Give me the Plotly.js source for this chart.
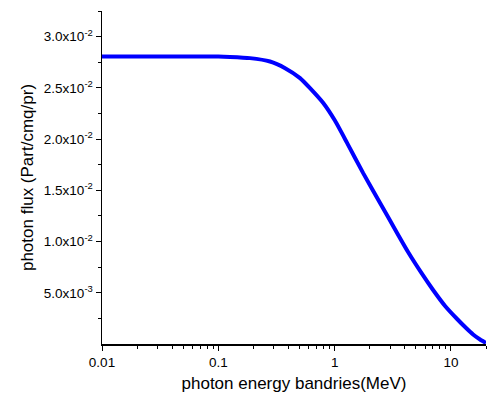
<!DOCTYPE html>
<html>
<head>
<meta charset="utf-8">
<script src="https://cdn.plot.ly/plotly-3.0.1.min.js"></script>
<style>html,body{margin:0;padding:0;background:#fff;}#chart{width:487px;height:398px;}</style>
</head>
<body>
<div id="chart"></div>
<script>
const energy = [0.01, 0.02, 0.05, 0.1, 0.126, 0.187, 0.278, 0.375, 0.504, 0.614, 0.795, 1.008, 1.278, 1.754, 2.457, 3.44, 4.277, 5.643, 7.017, 8.9, 11.29, 13.49, 15.49, 17.79, 20.0];
const flux = [0.02806, 0.02806, 0.02806, 0.02806, 0.02802, 0.02790, 0.02757, 0.02692, 0.02595, 0.02497, 0.02354, 0.02178, 0.01963, 0.01670, 0.01377, 0.01084, 0.00898, 0.00684, 0.00527, 0.00371, 0.00244, 0.00156, 0.00093, 0.00044, 0.0001];
const xTickVals = [0.01, 0.1, 1, 10];
const xTickText = ["0.01", "0.1", "1", "10"];
const yTickVals = [0.005, 0.010, 0.015, 0.020, 0.025, 0.030];
const yTickText = ["5.0x10<sup>-3</sup>", "1.0x10<sup>-2</sup>", "1.5x10<sup>-2</sup>", "2.0x10<sup>-2</sup>", "2.5x10<sup>-2</sup>", "3.0x10<sup>-2</sup>"];
const xMinor = [0.02,0.03,0.04,0.05,0.06,0.07,0.08,0.09,0.2,0.3,0.4,0.5,0.6,0.7,0.8,0.9,2,3,4,5,6,7,8,9,20];
const yMinor = [0.0025,0.0075,0.0125,0.0175,0.0225,0.0275,0.0325];

const font = "Liberation Sans, Arial, sans-serif";
Plotly.newPlot('chart', [{
  x: energy, y: flux, type: 'scatter', mode: 'lines',
  line: {color: '#0000FF', width: 4, shape: 'spline', smoothing: 0.5}
}], {
  width: 487, height: 398,
  margin: {l: 102, r: 1, t: 11, b: 54},
  paper_bgcolor: '#fff', plot_bgcolor: '#fff',
  showlegend: false,
  font: {family: font, size: 13.5, color: '#000'},
  xaxis: {
    type: 'log', range: [-2, Math.log10(20)],
    tickmode: 'array', tickvals: xTickVals, ticktext: xTickText,
    ticks: 'outside', ticklen: 5, tickwidth: 1, tickcolor: '#000',
    minor: {tickmode: 'array', tickvals: xMinor, ticks: 'outside', ticklen: 3, tickcolor: '#000', showgrid: false},
    showline: true, linecolor: '#000', linewidth: 1.5, mirror: false,
    showgrid: false, zeroline: false,
    tickfont: {family: font, size: 13.5},
    title: {text: 'photon energy bandries(MeV)', font: {family: font, size: 17}, standoff: 8}
  },
  yaxis: {
    range: [0, 0.0325],
    tickmode: 'array', tickvals: yTickVals, ticktext: yTickText,
    ticks: 'outside', ticklen: 5, tickwidth: 1, tickcolor: '#000',
    minor: {tickmode: 'array', tickvals: yMinor, ticks: 'outside', ticklen: 3, tickcolor: '#000', showgrid: false},
    showline: true, linecolor: '#000', linewidth: 1.5, mirror: false,
    showgrid: false, zeroline: false,
    tickfont: {family: font, size: 13.5},
    title: {text: 'photon flux (Part/cmq/pr)', font: {family: font, size: 17}, standoff: 6}
  }
}, {displayModeBar: false, staticPlot: true});
</script>
</body>
</html>
